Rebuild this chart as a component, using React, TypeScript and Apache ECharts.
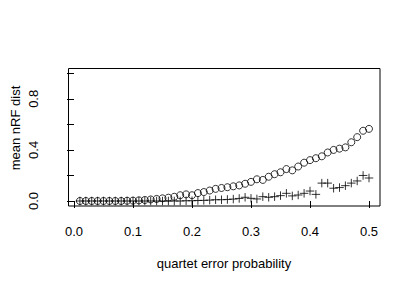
import React, { useEffect, useRef } from "react";
import * as echarts from "echarts";

const errorProb = [
  0.01, 0.02, 0.03, 0.04, 0.05, 0.06, 0.07, 0.08, 0.09, 0.1,
  0.11, 0.12, 0.13, 0.14, 0.15, 0.16, 0.17, 0.18, 0.19, 0.2,
  0.21, 0.22, 0.23, 0.24, 0.25, 0.26, 0.27, 0.28, 0.29, 0.3,
  0.31, 0.32, 0.33, 0.34, 0.35, 0.36, 0.37, 0.38, 0.39, 0.4,
  0.41, 0.42, 0.43, 0.44, 0.45, 0.46, 0.47, 0.48, 0.49, 0.5,
];

const circleDist = [
  0, 0, 0, 0, 0, 0, 0, 0, 0.002, 0.003,
  0.005, 0.008, 0.012, 0.016, 0.021, 0.026, 0.033, 0.045, 0.052, 0.045,
  0.062, 0.07, 0.082, 0.095, 0.102, 0.108, 0.115, 0.122, 0.135, 0.15,
  0.17, 0.165, 0.19, 0.21, 0.225, 0.25, 0.24, 0.27, 0.3, 0.32,
  0.335, 0.35, 0.38, 0.4, 0.41, 0.42, 0.46, 0.5, 0.55, 0.565,
];

const plusDist = [
  0, 0, 0, 0, 0, 0, 0, 0, 0, 0,
  0, 0, 0, 0, 0, 0, 0, 0, 0.002, 0.002,
  0.004, 0.005, 0.007, 0.01, 0.01, 0.012, 0.015, 0.02, 0.029, 0.021,
  0.016, 0.034, 0.029, 0.034, 0.042, 0.06, 0.04, 0.047, 0.06, 0.078,
  0.052, 0.14, 0.14, 0.1, 0.105, 0.12, 0.14, 0.157, 0.2, 0.18,
];

const xTickLabels = ["0.0", "0.1", "0.2", "0.3", "0.4", "0.5"];
const yTickLabels: Record<string, string> = { "0": "0.0", "0.4": "0.4", "0.8": "0.8" };

const FONT = "'Liberation Sans', Arial, Helvetica, sans-serif";

export default function App() {
  const ref = useRef<HTMLDivElement>(null);
  useEffect(() => {
    if (!ref.current) return;
    const chart = echarts.init(ref.current, undefined, { renderer: "svg" });
    chart.setOption({
      animation: false,
      backgroundColor: "#ffffff",
      grid: { left: 74, top: 73.3, width: 295, height: 127.7, containLabel: false },
      xAxis: {
        type: "value",
        min: 0,
        max: 0.5,
        interval: 0.1,
        offset: 5,
        axisLine: { show: false },
        axisTick: { show: true, length: 7, inside: false, lineStyle: { color: "#000", width: 1 } },
        splitLine: { show: false },
        axisLabel: {
          margin: 19,
          fontFamily: FONT,
          fontSize: 13,
          color: "#000",
          formatter: (v: number) => xTickLabels[Math.round(v * 10)] ?? "",
        },
      },
      yAxis: {
        type: "value",
        min: 0,
        max: 1,
        interval: 0.2,
        offset: 6,
        axisLine: { show: false },
        axisTick: { show: true, length: 7, inside: false, lineStyle: { color: "#000", width: 1 } },
        splitLine: { show: false },
        axisLabel: {
          margin: 28,
          rotate: 90,
          fontFamily: FONT,
          fontSize: 13,
          color: "#000",
          formatter: (v: number) => yTickLabels[String(Math.round(v * 10) / 10)] ?? "",
        },
      },
      graphic: [
        {
          type: "rect",
          shape: { x: 68.5, y: 68.5, width: 311.5, height: 137.5 },
          style: { fill: "none", stroke: "#000", lineWidth: 1 },
          silent: true,
        },
        {
          type: "text",
          x: 224,
          y: 263,
          style: {
            text: "quartet error probability",
            font: `13px ${FONT}`,
            fill: "#000",
            align: "center",
            verticalAlign: "middle",
          },
        },
        {
          type: "text",
          x: 15.7,
          y: 128,
          rotation: Math.PI / 2,
          style: {
            text: "mean nRF dist",
            font: `13px ${FONT}`,
            fill: "#000",
            align: "center",
            verticalAlign: "middle",
          },
        },
      ],
      series: [
        {
          type: "scatter",
          clip: false,
          symbol: "circle",
          symbolSize: 7,
          itemStyle: { color: "transparent", borderColor: "#000", borderWidth: 1 },
          data: errorProb.map((x, i) => [x, circleDist[i]]),
        },
        {
          type: "scatter",
          clip: false,
          symbol: "path://M0,-1L0,1M-1,0L1,0",
          symbolSize: 8.5,
          itemStyle: { color: "transparent", borderColor: "#000", borderWidth: 1 },
          data: errorProb.map((x, i) => [x, plusDist[i]]),
        },
      ],
    });
    return () => chart.dispose();
  }, []);
  return (
    <div
      ref={ref}
      style={{ position: "fixed", left: 0, top: 0, width: 415, height: 291, background: "#fff" }}
    />
  );
}
